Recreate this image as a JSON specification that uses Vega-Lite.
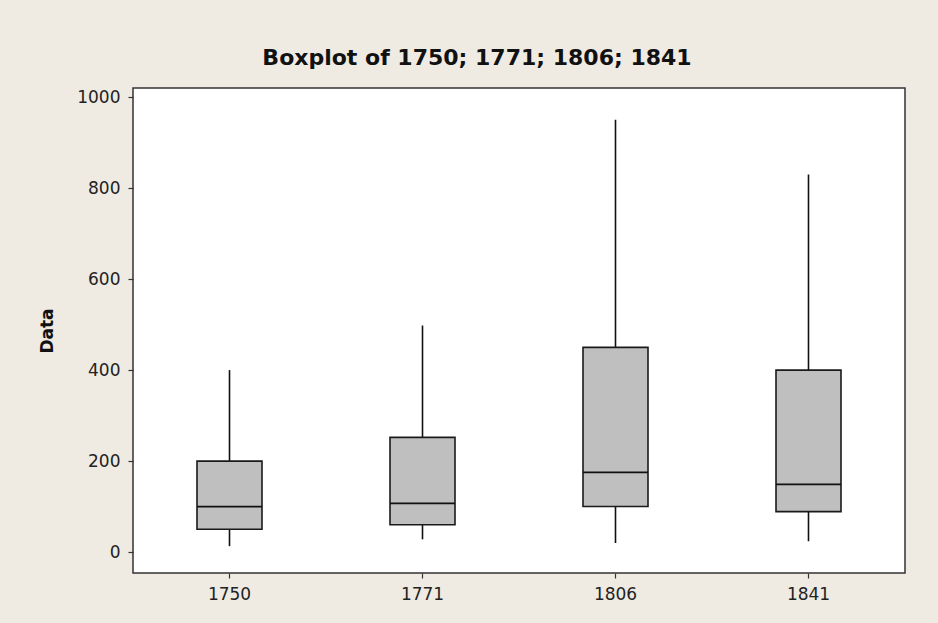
{
  "$schema": "https://vega.github.io/schema/vega-lite/v6.json",
  "autosize": "none",
  "width": 772,
  "height": 485,
  "padding": {"left": 133, "top": 88, "right": 33, "bottom": 50},
  "background": "#EFEBE3",
  "title": {
    "text": "Boxplot of 1750; 1771; 1806; 1841",
    "font": "DejaVu Sans",
    "fontSize": 22,
    "fontWeight": "bold",
    "color": "#111111",
    "anchor": "middle",
    "baseline": "alphabetic",
    "offset": 1,
    "dx": -42
  },
  "config": {
    "view": {"fill": "#FFFFFF", "stroke": "#333333", "strokeWidth": 1.5},
    "axis": {
      "grid": false,
      "domain": false,
      "tickColor": "#333333",
      "tickSize": 5,
      "tickWidth": 1.2,
      "labelFont": "DejaVu Sans",
      "labelFontSize": 17,
      "labelColor": "#222222",
      "titleFont": "DejaVu Sans",
      "titleFontSize": 17,
      "titleFontWeight": "bold",
      "titleColor": "#111111"
    }
  },
  "data": {
    "values": [
      {"year": "1750", "min": 13, "q1": 50, "median": 100, "q3": 200, "max": 400},
      {"year": "1771", "min": 28, "q1": 60, "median": 107, "q3": 252, "max": 498},
      {"year": "1806", "min": 20, "q1": 100, "median": 175, "q3": 450, "max": 950},
      {"year": "1841", "min": 24, "q1": 89, "median": 149, "q3": 400, "max": 830}
    ]
  },
  "encoding": {
    "x": {
      "field": "year",
      "type": "ordinal",
      "scale": {"paddingInner": 0, "paddingOuter": 0},
      "axis": {"title": null, "labelAngle": 0, "labelPadding": 8}
    }
  },
  "layer": [
    {
      "mark": {"type": "rule", "color": "#111111", "strokeWidth": 1.6},
      "encoding": {
        "y": {
          "field": "min",
          "type": "quantitative",
          "scale": {"domain": [-46, 1020], "nice": false, "zero": false},
          "axis": {
            "title": "Data",
            "values": [0, 200, 400, 600, 800, 1000],
            "format": "d",
            "labelPadding": 8,
            "titlePadding": 20
          }
        },
        "y2": {"field": "max"}
      }
    },
    {
      "mark": {"type": "bar", "size": 65, "fill": "#BFBFBF", "stroke": "#1A1A1A", "strokeWidth": 1.6},
      "encoding": {
        "y": {"field": "q1", "type": "quantitative"},
        "y2": {"field": "q3"}
      }
    },
    {
      "mark": {"type": "tick", "size": 65, "thickness": 1.8, "color": "#111111", "opacity": 1},
      "encoding": {
        "y": {"field": "median", "type": "quantitative"}
      }
    }
  ]
}
